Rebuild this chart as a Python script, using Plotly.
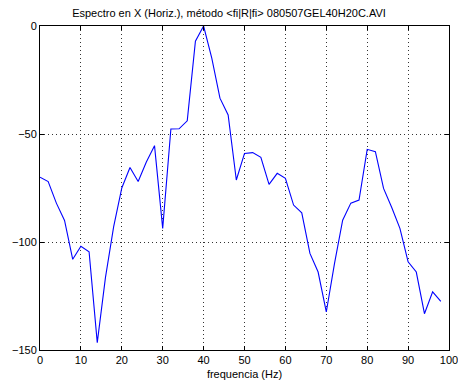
import plotly.graph_objects as go

freq = list(range(0, 100, 2))
power = [-70, -72, -82, -90, -108, -102, -104.5, -146.6, -116.5, -93,
         -75, -65.5, -72, -63, -55.4, -93.7, -47.7, -47.6, -43.9, -7,
         0, -14.9, -33.4, -41.2, -71.3, -59, -58.6, -60.8, -73.3, -68.2,
         -70.5, -82.9, -86.5, -105.3, -113.9, -132.4, -110, -89.9, -82, -80.6,
         -57.1, -58.2, -75.2, -84, -93.7, -109.2, -113.9, -133.2, -123.1, -127.5]

title = "Espectro en X (Horiz.), método &lt;fi|R|fi&gt; 080507GEL40H20C.AVI"
xticks = [0, 10, 20, 30, 40, 50, 60, 70, 80, 90, 100]
yticks = [0, -50, -100, -150]

fig = go.Figure()
fig.add_trace(go.Scatter(x=freq, y=power, mode="lines",
                         line=dict(color="#0000ff", width=1.1),
                         hoverinfo="skip", showlegend=False))

axis_common = dict(showline=True, linecolor="black", linewidth=1, mirror="allticks",
                   ticks="inside", ticklen=4, tickcolor="black",
                   showgrid=True, gridcolor="#333333", griddash="1px,3px", gridwidth=1,
                   zeroline=False, ticklabeloverflow="allow", automargin=False,
                   tickfont=dict(family="Liberation Sans, Arial", size=11, color="black"))

fig.update_layout(
    width=458, height=385,
    margin=dict(l=40, r=9, t=26, b=35),
    paper_bgcolor="white", plot_bgcolor="white",
    title=dict(text=title, x=0.5, xanchor="center", y=0.977, yanchor="top",
               font=dict(family="Liberation Sans, Arial", size=11, color="black")),
    xaxis=dict(range=[0, 100], tickvals=xticks,
               title=dict(text="frequencia (Hz)", standoff=5,
                          font=dict(family="Liberation Sans, Arial", size=11, color="black")),
               **axis_common),
    yaxis=dict(range=[-150, 0], tickvals=yticks, **axis_common),
)

fig.write_html("out.html")
